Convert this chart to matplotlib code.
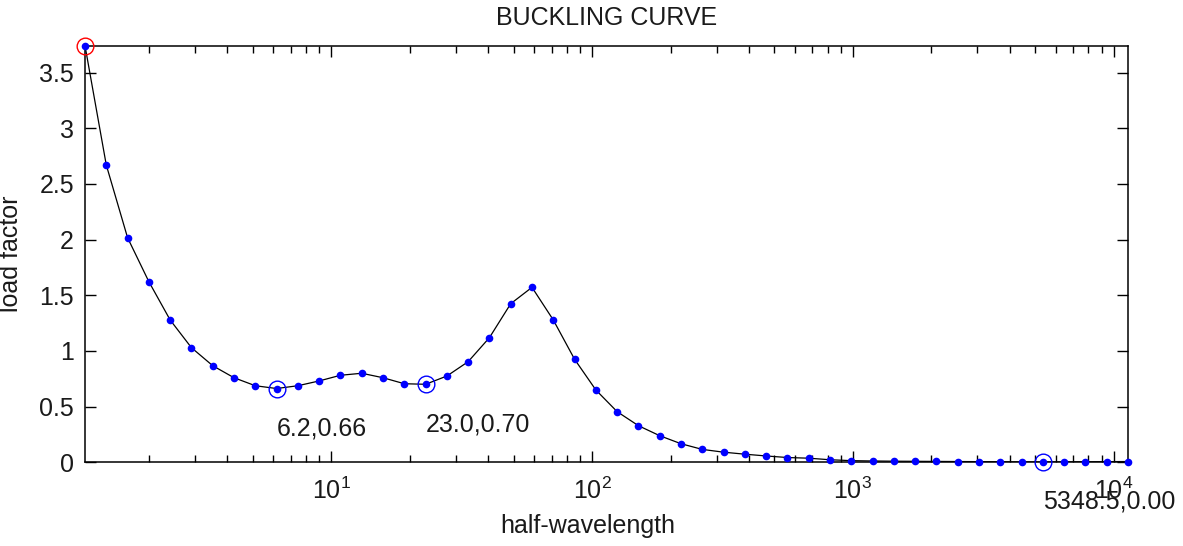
import matplotlib
matplotlib.use("Agg")
import matplotlib.pyplot as plt
from matplotlib.ticker import LogLocator, FixedLocator, NullFormatter

plt.rcParams['font.family'] = ['Liberation Sans', 'DejaVu Sans']
plt.rcParams['mathtext.default'] = 'regular'

# ---- data ----
half_wavelength = [1.1378, 1.3730, 1.6568, 1.9993, 2.4126, 2.9113, 3.5131, 4.2393, 5.1157, 6.1731,
                   7.4492, 8.9891, 10.847, 13.090, 15.795, 19.060, 23.000, 27.754, 33.492, 40.415,
                   48.770, 58.851, 71.016, 85.697, 103.41, 124.79, 150.59, 181.71, 219.28, 264.61,
                   319.31, 385.31, 464.96, 561.08, 677.07, 817.03, 985.78, 1189.6, 1435.5, 1732.3,
                   2090.4, 2522.5, 3044.0, 3673.3, 4432.6, 5348.5, 6454.6, 7789.0, 9398.9, 11342.0]
load_factor = [3.742, 2.670, 2.017, 1.622, 1.278, 1.029, 0.867, 0.759, 0.687, 0.662,
               0.687, 0.730, 0.781, 0.799, 0.759, 0.705, 0.700, 0.774, 0.903, 1.119,
               1.424, 1.571, 1.278, 0.925, 0.649, 0.454, 0.328, 0.238, 0.166, 0.115,
               0.090, 0.072, 0.056, 0.042, 0.036, 0.022, 0.014, 0.011, 0.009, 0.008,
               0.007, 0.006, 0.005, 0.004, 0.003, 0.002, 0.003, 0.004, 0.005, 0.006]
minima_idx = [9, 16, 45]
first_idx = 0

y_ticks = [0, 0.5, 1, 1.5, 2, 2.5, 3, 3.5]
y_ticklabels = ['0', '0.5', '1', '1.5', '2', '2.5', '3', '3.5']
x_major = [10, 100, 1000, 10000]
x_ticklabels = ['$10^{1}$', '$10^{2}$', '$10^{3}$', '$10^{4}$']

title = 'BUCKLING CURVE'
xlabel = 'half-wavelength'
ylabel = 'load factor'

# ---- figure ----
W, H = 1183, 546
fig = plt.figure(figsize=(W / 100, H / 100), dpi=100)
ax = fig.add_axes([85 / W, 1 - 462.2 / H, (1128 - 85) / W, (462.2 - 45.7) / H])

ax.plot(half_wavelength, load_factor, color='black', lw=0.9, zorder=2)
ax.plot(half_wavelength, load_factor, 'o', color='#0000ff', ms=5.5, mew=0, zorder=3, clip_on=False)

mx = [half_wavelength[i] for i in minima_idx]
my = [load_factor[i] for i in minima_idx]
ax.plot(mx, my, 'o', mfc='none', mec='#0000ff', ms=12, mew=1.0, zorder=4, clip_on=False)
ax.plot([half_wavelength[first_idx]], [load_factor[first_idx]], 'o', mfc='none', mec='#ff0000',
        ms=12, mew=1.0, zorder=4, clip_on=False)

for i in minima_idx:
    ax.annotate(f"{half_wavelength[i]:.1f},{load_factor[i]:.2f}",
                xy=(half_wavelength[i], load_factor[i]), xytext=(0, -40),
                textcoords='offset pixels', ha='left', va='center', fontsize=18,
                color='#1a1a1a', annotation_clip=False)

ax.set_xscale('log')
ax.set_xlim(half_wavelength[0], half_wavelength[-1])
ax.set_ylim(0, max(load_factor))

ax.xaxis.set_major_locator(FixedLocator(x_major))
ax.set_xticklabels(x_ticklabels)
ax.xaxis.set_minor_locator(LogLocator(base=10, subs=[2, 3, 4, 5, 6, 7, 8, 9], numticks=20))
ax.xaxis.set_minor_formatter(NullFormatter())
ax.set_yticks(y_ticks)
ax.set_yticklabels(y_ticklabels)

ax.tick_params(which='both', direction='in', top=True, right=True, color='black', width=1.0)
ax.tick_params(which='major', length=8, labelsize=18, labelcolor='#1a1a1a')
ax.tick_params(which='minor', length=5)
ax.tick_params(axis='x', which='major', pad=11)
ax.tick_params(axis='y', which='major', pad=8)
for s in ax.spines.values():
    s.set_linewidth(1.1)

ax.set_title(title, fontsize=18, pad=15, color='#1a1a1a')
ax.set_xlabel(xlabel, fontsize=18, color='#1a1a1a')
ax.xaxis.set_label_coords(0.482, -0.124)
ax.set_ylabel(ylabel, fontsize=18, color='#1a1a1a')
ax.yaxis.set_label_coords(-0.059, 0.5)

fig.savefig('out.png', dpi=100)
